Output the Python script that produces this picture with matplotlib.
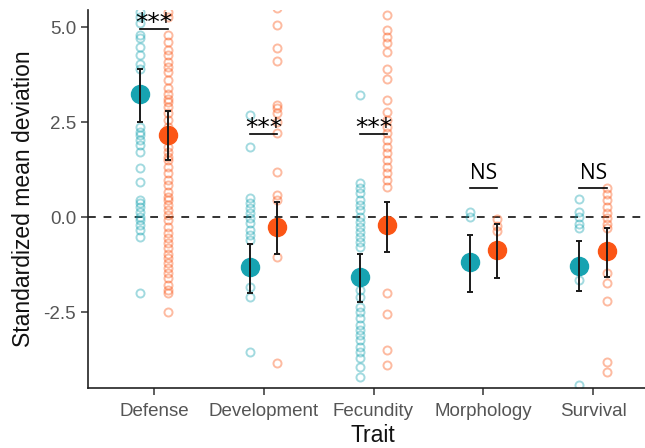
import matplotlib
matplotlib.use("Agg")
import matplotlib.pyplot as plt

plt.rcParams["font.family"] = ["Liberation Sans", "DejaVu Sans"]

traits = ["Defense", "Development", "Fecundity", "Morphology", "Survival"]

# Individual standardized mean deviations per trait, for the two groups
teal_points = {
    "Defense": [5.4, 5.27, 5.1, 4.79, 4.7, 4.48, 4.26, 4.04, 3.91, 2.38, 2.24, 2.16,
                2.03, 1.89, 1.72, 1.28, 0.93, 0.45, 0.36, 0.27, 0.14, 0.01, -0.08,
                -0.21, -0.34, -0.52, -2.01],
    "Development": [2.68, 1.85, 0.49, 0.36, 0.23, 0.1, -0.03, -0.16, -0.34, -0.47,
                    -0.61, -1.83, -2.10, -3.54],
    "Fecundity": [3.21, 0.89, 0.76, 0.63, 0.45, 0.32, 0.18, 0.01, -0.12, -0.26,
                  -0.39, -0.52, -0.65, -0.78, -1.92, -2.10, -2.36, -2.49, -2.67,
                  -2.84, -2.97, -3.10, -3.24, -3.41, -3.54, -3.72, -3.94, -4.20],
    "Morphology": [0.14, 0.01],
    "Survival": [0.47, 0.14, 0.01, -0.17, -0.30, -1.66, -4.42],
}
orange_points = {
    "Defense": [5.41, 5.27, 4.79, 4.61, 4.39, 4.26, 4.08, 3.95, 3.82, 3.61, 3.39,
                3.25, 3.12, 3.03, 2.90, 2.73, 2.55, 2.38, 2.03, 1.85, 1.72, 1.59,
                1.50, 1.32, 1.15, 0.97, 0.84, 0.67, 0.53, 0.45, 0.32, 0.18, 0.05,
                -0.08, -0.25, -0.43, -0.56, -0.69, -0.82, -0.96, -1.09, -1.22,
                -1.35, -1.48, -1.61, -1.79, -1.92, -2.01, -2.49],
    "Development": [5.49, 5.05, 4.44, 4.10, 2.95, 2.86, 2.73, 2.51, 2.22, 1.19,
                    0.58, 0.45, -1.04, -3.85],
    "Fecundity": [5.32, 4.92, 4.74, 4.57, 4.35, 3.91, 3.63, 3.08, 2.77, 2.55, 2.38,
                  2.20, 2.03, 1.85, 1.68, 1.50, 1.32, 1.15, 0.97, 0.80, -2.01,
                  -2.54, -3.50, -3.89],
    "Morphology": [-0.06, -0.24, -0.37],
    "Survival": [0.77, 0.60, 0.45, 0.27, 0.10, -0.03, -0.17, -0.28, -1.48, -1.74,
                 -2.21, -3.81, -4.07],
}

# Group means with lower / upper interval bounds
teal_mean = [3.25, -1.31, -1.57, -1.19, -1.28]
teal_low = [2.50, -2.00, -2.23, -1.98, -1.94]
teal_high = [3.90, -0.72, -0.97, -0.47, -0.62]
orange_mean = [2.15, -0.25, -0.21, -0.87, -0.89]
orange_low = [1.50, -0.96, -0.91, -1.60, -1.57]
orange_high = [2.80, 0.40, 0.40, -0.17, -0.30]

sig_labels = ["***", "***", "***", "NS", "NS"]
sig_heights = [4.95, 2.18, 2.18, 0.76, 0.76]

TEAL = "#17A3B1"
ORANGE = "#FB5515"
dodge = 0.125

W, H = 645, 448
fig = plt.figure(figsize=(W / 100, H / 100), dpi=100)
ax = fig.add_axes([88 / W, (H - 388) / H, (659 - 88) / W, (388 - 10) / H])

for i, t in enumerate(traits):
    x = i + 1
    for pts, col, off in ((teal_points[t], TEAL, -dodge), (orange_points[t], ORANGE, dodge)):
        ax.plot([x + off] * len(pts), pts, linestyle="none", marker="o",
                markersize=5.8, markerfacecolor="none", markeredgecolor=col,
                markeredgewidth=1.4, alpha=0.4, zorder=2)

xs = [i + 1 for i in range(len(traits))]
for means, lows, highs, col, off in ((teal_mean, teal_low, teal_high, TEAL, -dodge),
                                     (orange_mean, orange_low, orange_high, ORANGE, dodge)):
    xp = [x + off for x in xs]
    ax.plot(xp, means, linestyle="none", marker="o", markersize=13,
            color=col, zorder=3)
    yerr = [[m - l for m, l in zip(means, lows)], [h - m for m, h in zip(means, highs)]]
    ax.errorbar(xp, means, yerr=yerr, fmt="none", ecolor="#1a1a1a",
                elinewidth=1.4, capsize=2.5, capthick=1.4, zorder=4)

ax.axhline(0, color="#333333", linestyle=(0, (4, 4)), linewidth=1.4, zorder=1)

for x, lab, h in zip(xs, sig_labels, sig_heights):
    ax.plot([x - dodge, x + dodge], [h, h], color="black", linewidth=1.2, zorder=5)
    if lab == "NS":
        ax.text(x, h + 0.12, lab, ha="center", va="bottom", fontsize=15,
                family=["Open Sans", "DejaVu Sans"], color="black", zorder=5)
    else:
        ax.text(x, h - 0.16, lab, ha="center", va="bottom", fontsize=18,
                family=["DejaVu Sans"], color="black", zorder=5)

ax.set_xlim(0.4, 5.6)
ax.set_ylim(-4.5, 5.45)
ax.set_xticks(xs)
ax.set_xticklabels(traits)
ax.set_yticks([-2.5, 0.0, 2.5, 5.0])
ax.set_yticklabels(["-2.5", "0.0", "2.5", "5.0"])
ax.tick_params(axis="both", colors="#333333", labelcolor="#555555",
               labelsize=13.5, length=5, width=1.1)
ax.tick_params(axis="x", pad=6)
for side in ("top", "right"):
    ax.spines[side].set_visible(False)
for side in ("left", "bottom"):
    ax.spines[side].set_linewidth(1.2)
    ax.spines[side].set_color("#222222")

ax.set_ylabel("Standardized mean deviation", fontsize=16.5, color="#111111", labelpad=6)
fig.text(373 / W, 1 - 435 / H, "Trait", ha="center", va="center",
         fontsize=16.5, color="#111111")

fig.savefig("out.png", dpi=100)
